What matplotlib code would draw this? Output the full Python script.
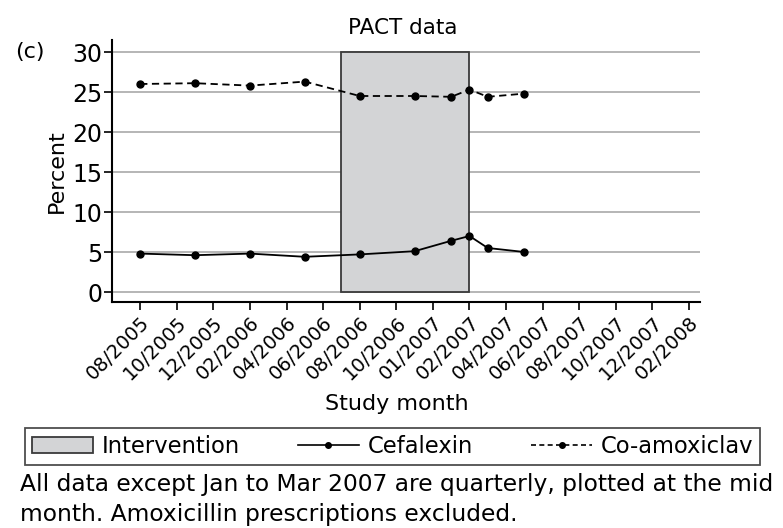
import matplotlib.pyplot as plt
from matplotlib.patches import Patch, Rectangle
from matplotlib.lines import Line2D

plt.rcParams['font.family'] = ['DejaVu Sans']

# Study month tick labels (evenly spaced categories)
months = ['08/2005', '10/2005', '12/2005', '02/2006', '04/2006', '06/2006',
          '08/2006', '10/2006', '01/2007', '02/2007', '04/2007', '06/2007',
          '08/2007', '10/2007', '12/2007', '02/2008']

# Quarterly points plotted at mid month (position on the month axis)
pos = [0, 1.5, 3, 4.5, 6, 7.5, 8.5, 9, 9.5, 10.5]
cefalexin = [4.8, 4.6, 4.8, 4.4, 4.7, 5.1, 6.4, 7.0, 5.5, 5.0]
coamoxiclav = [26.0, 26.1, 25.8, 26.3, 24.5, 24.5, 24.4, 25.3, 24.4, 24.8]

# Intervention period
interv_start, interv_end = 5.5, 9

fig = plt.figure(figsize=(7.83, 5.28), dpi=100)
ax = fig.add_axes([112 / 783, 1 - 302 / 528, 588 / 783, 262 / 528])

for y in range(0, 31, 5):
    ax.axhline(y, color='#b0b0b0', lw=1.3, zorder=0)

ax.add_patch(Rectangle((interv_start, 0), interv_end - interv_start, 30,
                       facecolor='#d3d4d6', edgecolor='#3a3a3a', lw=1.3, zorder=1))

ax.plot(pos, cefalexin, '-', color='black', lw=1.3, marker='o', ms=5, zorder=3)
ax.plot(pos, coamoxiclav, '--', color='black', lw=1.3, marker='o', ms=5,
        dashes=(4, 2.5), zorder=3)

ax.set_xlim(-0.77, 15.3)
ax.set_ylim(-1.25, 31.5)
ax.set_xticks(range(len(months)))
ax.set_xticklabels(months, rotation=45, ha='right', rotation_mode='anchor', fontsize=14)
ax.set_yticks(range(0, 31, 5))
ax.tick_params(axis='y', labelsize=17, length=6, width=1.2, pad=1)
ax.tick_params(axis='x', length=6, width=1.2, pad=2)
for s in ['top', 'right']:
    ax.spines[s].set_visible(False)
for s in ['left', 'bottom']:
    ax.spines[s].set_linewidth(1.5)

ax.set_title('PACT data', fontsize=15.5, pad=4, x=0.495)
ax.set_ylabel('Percent', fontsize=16, labelpad=4)
ax.set_xlabel('Study month', fontsize=16)
ax.xaxis.set_label_coords(0.485, -0.35)
fig.text(30 / 783, 1 - 52 / 528, '(c)', fontsize=16, ha='center', va='center')

handles = [
    Patch(facecolor='#d3d4d6', edgecolor='#3a3a3a', lw=1.3),
    Line2D([], [], color='black', lw=1.2, marker='o', ms=4),
    Line2D([], [], color='black', lw=1.2, ls='--', marker='o', ms=4, dashes=(3, 2)),
]
leg = fig.legend(handles, ['Intervention', 'Cefalexin', 'Co-amoxiclav'],
                 loc='upper left', ncol=3, bbox_to_anchor=(25 / 783, 1 - 428 / 528),
                 borderaxespad=0, fontsize=16.3, frameon=True, fancybox=False,
                 borderpad=0.3, handlelength=2.7, handletextpad=0.4,
                 columnspacing=2.55)
leg.get_frame().set_edgecolor('#222222')
leg.get_frame().set_linewidth(1.3)

fig.text(20 / 783, 1 - 485 / 528,
         'All data except Jan to Mar 2007 are quarterly, plotted at the mid',
         fontsize=16.8, ha='left', va='center')
fig.text(20 / 783, 1 - 514 / 528, 'month. Amoxicillin prescriptions excluded.',
         fontsize=16.8, ha='left', va='center')

fig.savefig('out.png', dpi=100)
